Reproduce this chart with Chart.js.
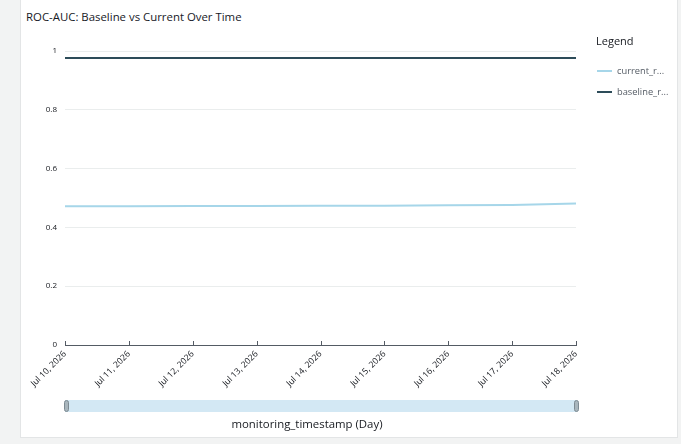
<!DOCTYPE html>
<html>
<head>
<meta charset="utf-8">
<script src="https://cdn.jsdelivr.net/npm/chart.js@4.4.1/dist/chart.umd.min.js"></script>
<style>
  html, body { margin: 0; padding: 0; width: 681px; height: 444px; overflow: hidden; background: #f2f3f3; font-family: "Open Sans", "Noto Sans", sans-serif; }
  #card { position: absolute; left: 20px; top: -2px; width: 656px; height: 438px; background: #fff; border: 1px solid #e3e5e6; }
  #wrap { position: absolute; left: 0; top: 0; width: 681px; height: 444px; }
  #title { position: absolute; left: 26px; top: 9px; font-size: 11.4px; color: #16191f; white-space: nowrap; }
  #legendTitle { position: absolute; left: 596px; top: 33px; font-size: 11px; color: #16191f; }
  .li { position: absolute; left: 597px; font-size: 9.3px; color: #545b64; white-space: nowrap; }
  .li span.sw { display: inline-block; width: 15px; height: 2px; vertical-align: middle; margin-right: 5px; position: relative; top: -1px; }
  #slider { position: absolute; left: 65px; top: 400px; width: 512px; height: 12px; background: #d3e8f4; }
  .handle { position: absolute; top: 400px; width: 3px; height: 10px; background: #a9b6bd; border: 1px solid #7d8b93; border-radius: 3px; }
  #xtitle { position: absolute; left: 0; width: 614px; text-align: center; top: 416px; font-size: 11.4px; color: #16191f; }
</style>
</head>
<body>
<div id="card"></div>
<div id="title">ROC-AUC: Baseline vs Current Over Time</div>
<div id="wrap"><canvas id="c" width="681" height="444"></canvas></div>
<div id="legendTitle">Legend</div>
<div class="li" style="top:64px"><span class="sw" style="background:#a6d6e9"></span>current_r...</div>
<div class="li" style="top:85px"><span class="sw" style="background:#2d4c59"></span>baseline_r...</div>
<div id="slider"></div>
<div class="handle" style="left:64px"></div>
<div class="handle" style="left:574px"></div>
<div id="xtitle">monitoring_timestamp (Day)</div>
<script>
const categories = ["Jul 10, 2026","Jul 11, 2026","Jul 12, 2026","Jul 13, 2026","Jul 14, 2026","Jul 15, 2026","Jul 16, 2026","Jul 17, 2026","Jul 18, 2026"];
const currentValues = [0.472, 0.472, 0.473, 0.473, 0.474, 0.474, 0.475, 0.476, 0.481];
const baselineValues = [0.976, 0.976, 0.976, 0.976, 0.976, 0.976, 0.976, 0.976, 0.976];
const yTicks = [0, 0.2, 0.4, 0.6, 0.8, 1];
const seriesNames = ["current_roc_auc", "baseline_roc_auc"];

const tickMarks = {
  id: 'tickMarks',
  afterDraw(chart) {
    const x = chart.scales.x, ctx = chart.ctx, y0 = chart.chartArea.bottom;
    ctx.save();
    ctx.strokeStyle = '#545b64';
    ctx.lineWidth = 1;
    categories.forEach((c, i) => {
      const px = Math.round(x.getPixelForValue(i)) + 0.5;
      ctx.beginPath(); ctx.moveTo(px, y0 - 4); ctx.lineTo(px, y0 + 1); ctx.stroke();
    });
    ctx.restore();
  }
};

new Chart(document.getElementById('c'), {
  type: 'line',
  data: {
    labels: categories,
    datasets: [
      { label: seriesNames[0], data: currentValues, borderColor: '#a6d6e9', borderWidth: 2, pointRadius: 0, tension: 0, fill: false },
      { label: seriesNames[1], data: baselineValues, borderColor: '#2d4c59', borderWidth: 2, pointRadius: 0, tension: 0, fill: false }
    ]
  },
  options: {
    responsive: false,
    animation: false,
    layout: { padding: { left: 0, top: 51, right: 105, bottom: 0 } },
    plugins: { legend: { display: false }, tooltip: { enabled: false } },
    scales: {
      x: {
        type: 'category',
        offset: false,
        grid: { display: false, drawTicks: false },
        border: { display: true, color: '#545b64', width: 1 },
        ticks: { minRotation: 45, maxRotation: 45, font: { size: 8.6, family: '"Open Sans", sans-serif' }, color: '#16191f', padding: 4, autoSkip: false },
        afterFit(s) { s.height = 99; }
      },
      y: {
        min: 0, max: 1,
        afterBuildTicks(s) { s.ticks = yTicks.map(v => ({ value: v })); },
        grid: { color: '#eaeded', drawTicks: false },
        border: { display: false },
        ticks: { font: { size: 8, family: '"Open Sans", sans-serif' }, color: '#16191f', padding: 8, callback: v => String(v) },
        afterFit(s) { s.width = 65; }
      }
    }
  },
  plugins: [tickMarks]
});
</script>
</body>
</html>
